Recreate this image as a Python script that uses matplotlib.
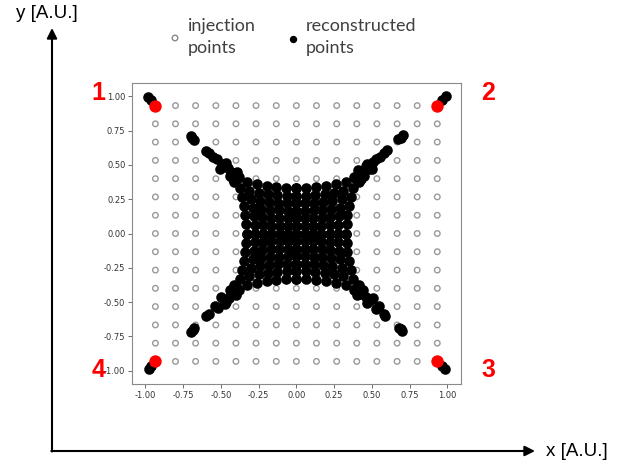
import numpy as np
import matplotlib
matplotlib.use('Agg')
import matplotlib.pyplot as plt

# injection grid (15 x 15)
inj_vals = [-0.933, -0.800, -0.667, -0.533, -0.400, -0.267, -0.133, 0.0,
            0.133, 0.267, 0.400, 0.533, 0.667, 0.800, 0.933]

# reconstructed centre, upper right quarter: x of point (col i, row j); y is the transpose
center_ne = [
    [0.0, 0.055, 0.110, 0.165, 0.220, 0.275, 0.330],
    [0.0, 0.055, 0.111, 0.166, 0.221, 0.276, 0.332],
    [0.0, 0.056, 0.112, 0.169, 0.225, 0.281, 0.337],
    [0.0, 0.058, 0.115, 0.173, 0.231, 0.288, 0.346],
    [0.0, 0.060, 0.120, 0.179, 0.239, 0.299, 0.359],
    [0.0, 0.062, 0.125, 0.187, 0.250, 0.312, 0.375],
    [0.0, 0.066, 0.132, 0.197, 0.263, 0.329, 0.395],
]

# reconstructed arms towards the corners
arm_ne_x = [0.990, 0.965, 0.705, 0.690, 0.675, 0.600, 0.578, 0.555, 0.525, 0.505, 0.480, 0.460, 0.440, 0.420, 0.450, 0.405, 0.430, 0.470, 0.500, 0.380, 0.415]
arm_ne_y = [1.000, 0.975, 0.720, 0.700, 0.690, 0.610, 0.585, 0.560, 0.540, 0.520, 0.470, 0.490, 0.450, 0.440, 0.420, 0.460, 0.400, 0.510, 0.470, 0.415, 0.375]
arm_nw_x = [-0.985, -0.965, -0.700, -0.690, -0.675, -0.595, -0.580, -0.550, -0.525, -0.490, -0.470, -0.450, -0.430, -0.410, -0.440, -0.395, -0.420, -0.465, -0.505, -0.380, -0.415]
arm_nw_y = [0.995, 0.975, 0.710, 0.695, 0.685, 0.600, 0.585, 0.560, 0.540, 0.510, 0.490, 0.480, 0.450, 0.440, 0.420, 0.450, 0.400, 0.515, 0.470, 0.415, 0.375]
arm_sw_x = [-0.975, -0.960, -0.700, -0.685, -0.675, -0.595, -0.580, -0.540, -0.520, -0.480, -0.465, -0.445, -0.430, -0.415, -0.440, -0.400, -0.420, -0.470, -0.500, -0.380, -0.415]
arm_sw_y = [-0.990, -0.970, -0.715, -0.705, -0.690, -0.600, -0.590, -0.530, -0.545, -0.490, -0.500, -0.470, -0.440, -0.430, -0.410, -0.450, -0.400, -0.515, -0.465, -0.415, -0.375]
arm_se_x = [0.985, 0.965, 0.700, 0.690, 0.680, 0.590, 0.580, 0.530, 0.545, 0.480, 0.500, 0.460, 0.430, 0.415, 0.440, 0.400, 0.420, 0.465, 0.505, 0.380, 0.415]
arm_se_y = [-0.990, -0.970, -0.710, -0.700, -0.690, -0.600, -0.590, -0.550, -0.530, -0.490, -0.480, -0.460, -0.440, -0.420, -0.410, -0.450, -0.400, -0.510, -0.470, -0.415, -0.375]

# highlighted corner injection points and their labels
red_x = [-0.933, 0.933, 0.933, -0.933]
red_y = [0.933, 0.933, -0.933, -0.933]
red_labels = ['1', '2', '3', '4']

W, H = 627, 468
fig = plt.figure(figsize=(W / 100, H / 100), dpi=100)

# overlay in pixel coordinates for arrows, legend and numbers
ov = fig.add_axes([0, 0, 1, 1], zorder=0)
ov.set_xlim(0, W)
ov.set_ylim(H, 0)
ov.axis('off')

ax = fig.add_axes([131.7 / W, (H - 384.3) / H, (461 - 131.7) / W, (384.3 - 82.7) / H], zorder=1)

ix, iy = np.meshgrid(inj_vals, inj_vals)
ax.scatter(ix.ravel(), iy.ravel(), s=16, facecolors='none', edgecolors='#999999', linewidths=1.0, zorder=2)

cx = np.array(center_ne)
cy = cx.T
rx, ry = [], []
for sx, sy in [(1, 1), (-1, 1), (-1, -1), (1, -1)]:
    rx.append(sx * cx.ravel())
    ry.append(sy * cy.ravel())
rx = np.concatenate(rx + [arm_ne_x, arm_nw_x, arm_sw_x, arm_se_x])
ry = np.concatenate(ry + [arm_ne_y, arm_nw_y, arm_sw_y, arm_se_y])
ax.scatter(rx, ry, s=58, color='black', linewidths=0, zorder=3)

ax.scatter(red_x, red_y, s=80, color='red', linewidths=0, zorder=4)

ax.set_xlim(-1.09, 1.09)
ax.set_ylim(-1.10, 1.10)
ticks = [-1.0, -0.75, -0.5, -0.25, 0.0, 0.25, 0.5, 0.75, 1.0]
ax.set_xticks(ticks)
ax.set_yticks(ticks)
ax.set_xticklabels(['%.2f' % t for t in ticks])
ax.set_yticklabels(['%.2f' % t for t in ticks])
ax.tick_params(labelsize=6, length=3, width=0.6, pad=1.5, colors='#555555', labelcolor='#333333')
for sp in ax.spines.values():
    sp.set_color('#8a8a8a')
    sp.set_linewidth(0.8)

# outer axes arrows
arr = dict(arrowstyle='-|>', color='black', lw=1.5, mutation_scale=15, shrinkA=0, shrinkB=0)
ov.annotate('', xy=(52, 28), xytext=(52, 451.5), arrowprops=arr)
ov.annotate('', xy=(535, 451), xytext=(51.3, 451), arrowprops=arr)
ov.text(47, 14, 'y [A.U.]', ha='center', va='center', fontsize=13.5, family='Liberation Sans')
ov.text(546, 451, 'x [A.U.]', ha='left', va='center', fontsize=13.5, family='Liberation Sans')

# legend
ov.scatter([175], [38], s=16, facecolors='none', edgecolors='#888888', linewidths=1.0)
ov.text(188, 37, 'injection\npoints', ha='left', va='center', fontsize=13, family='Lato', color='#404040', linespacing=1.5)
ov.scatter([293], [39], s=28, color='black', linewidths=0)
ov.text(306, 37, 'reconstructed\npoints', ha='left', va='center', fontsize=13, family='Lato', color='#404040', linespacing=1.5)

# corner numbers
num_pos = [(98, 93), (488, 93), (488, 370), (99, 370)]
for lab, (px, py) in zip(red_labels, num_pos):
    ov.text(px, py, lab, ha='center', va='center', fontsize=18, fontweight='bold', color='red', family='Liberation Sans')

fig.savefig('out.png', dpi=100)
